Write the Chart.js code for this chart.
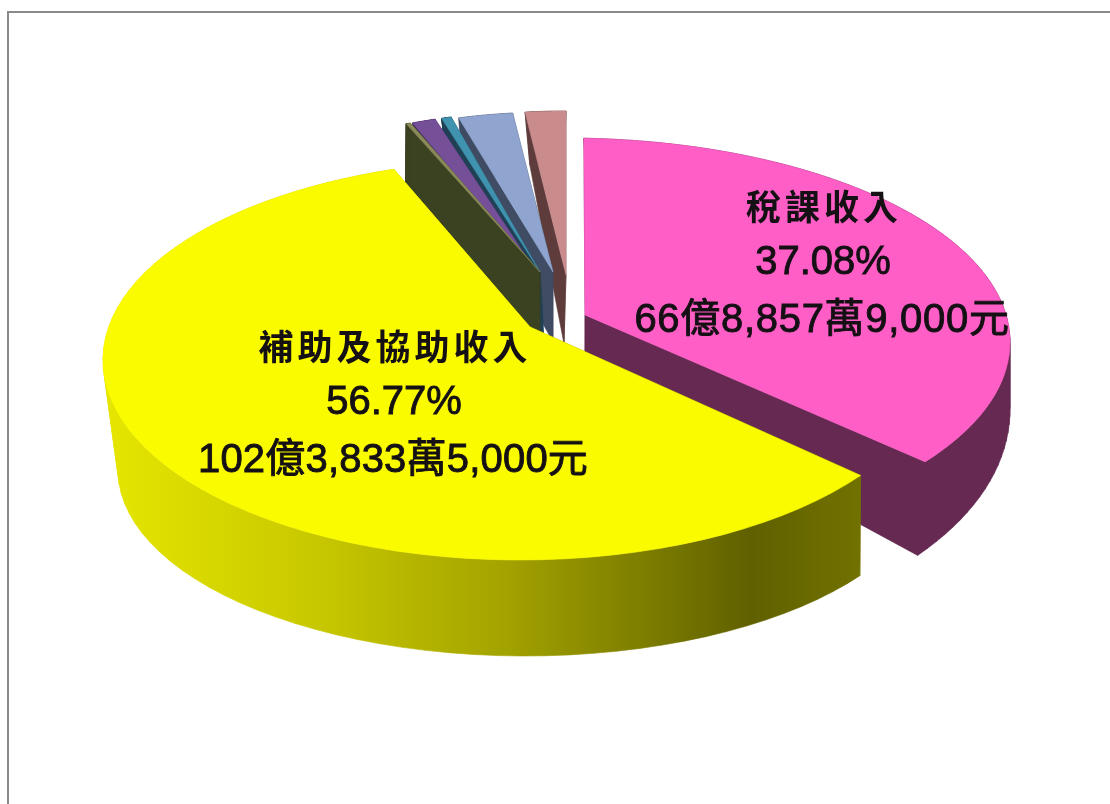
<!DOCTYPE html>
<html lang="zh-Hant">
<head>
<meta charset="utf-8">
<title>收入比例</title>
<script src="https://cdn.jsdelivr.net/npm/chart.js@4/dist/chart.umd.js"></script>
<style>
    html, body { margin: 0; padding: 0; background: #fff; overflow: hidden; }
    #wrap { position: relative; width: 1110px; height: 804px; }
    #frame { position: absolute; left: 7px; top: 11px; right: 0; bottom: 0; border-left: 2px solid #8a8a8a; border-top: 2px solid #8a8a8a; }
    canvas { position: absolute; left: 0; top: 0; }
</style>
</head>
<body>
<div id="wrap">
    <div id="frame"></div>
    <canvas id="chart" width="1110" height="804"></canvas>
</div>
<script>
const categories = ['稅課收入', '補助及協助收入', '其他甲', '其他乙', '其他丙', '其他丁', '其他戊'];
const shares = [37.08, 56.77, 0.2, 1.13, 0.48, 2.5, 1.84];
const percentLabels = ['37.08%', '56.77%'];
const amountLabels = ['66億8,857萬9,000元', '102億3,833萬5,000元'];

const topColors = ['#FF5EC6', '#FBFB00', '#8A8A58', '#754F98', '#3F93AF', '#8FA5CF', '#C98B8B'];
const wallColors = ['#662A52', null, '#3A4222', '#3D2A55', '#1F4055', '#3F4C63', '#5E3C3C'];

// back to front
const drawOrder = [6, 5, 4, 3, 2, 0, 1];

// tilted disc of each slice, offsets from the pie centre: ellipse centre, radii, apex
const face = (dx, dy, rx, ry, ax = dx, ay = dy) => ({ dx, dy, rx, ry, ax, ay });
const topFaces = [
    face(10, -60, 445, 204, 30, -87),
    face(-35, -42, 417, 200, -25, -75),
    face(-15, -130, 355, 160),
    face(-20, -132, 335, 158),
    face(-15, -130, 330, 161),
    face(-2, -130, 350, 160),
    face(11, -127, 355, 164),
];
const bottomFaces = [
    face(65, 8, 390, 225, 30, -27),
    face(-30, 68, 407, 186, -20, 35),
    face(-15, -57, 356, 167),
    face(-15, -60, 335, 167),
    face(-11, -60, 320, 167),
    face(-2, -60, 330, 167),
    face(9, -58, 296, 180),
];

const labelSpots = [
    { x: 268, y: [-195, -139, -81] },
    { x: -161, y: [-55, 1, 59] },
];

// perspective of a circle: moves the disc centre to the apex but keeps the rim on the ellipse
function rimPoint(arc, f, angle) {
    const u = arc.outerRadius / 402;
    const cx = arc.x + f.dx * u, cy = arc.y + f.dy * u;
    const rx = f.rx * u, ry = f.ry * u;
    const px = (f.ax - f.dx) / f.rx, py = (f.ay - f.dy) / f.ry;
    const qx = Math.cos(angle), qy = Math.sin(angle);
    const pp = px * px + py * py;
    const pq = px * qx + py * qy;
    let ex = qx, ey = qy;
    if (pp > 0) {
        const k = pq / pp;
        const s = Math.sqrt(1 - pp);
        ex = (px + k * px + s * (qx - k * px)) / (1 + pq);
        ey = (py + k * py + s * (qy - k * py)) / (1 + pq);
    }
    return { x: cx + rx * ex, y: cy + ry * ey };
}

function apexPoint(arc, f) {
    const u = arc.outerRadius / 402;
    return { x: arc.x + f.ax * u, y: arc.y + f.ay * u };
}

function rimPath(arc, f, from, to) {
    const pts = [];
    const steps = 72;
    for (let i = 0; i <= steps; i++) {
        pts.push(rimPoint(arc, f, from + (to - from) * i / steps));
    }
    return pts;
}

function signedArea(pts) {
    return pts.reduce((sum, p, i) => {
        const n = pts[(i + 1) % pts.length];
        return sum + p.x * n.y - n.x * p.y;
    }, 0);
}

// all polygons go into one path with the same winding, so neighbouring strips leave no seams
function fillPolygons(ctx, polygons, color) {
    ctx.beginPath();
    polygons.forEach((poly) => {
        const pts = signedArea(poly) < 0 ? poly.slice().reverse() : poly;
        pts.forEach((p, i) => (i ? ctx.lineTo(p.x, p.y) : ctx.moveTo(p.x, p.y)));
        ctx.closePath();
    });
    ctx.fillStyle = color;
    ctx.fill();
    ctx.strokeStyle = color;
    ctx.lineWidth = 0.6;
    ctx.stroke();
}

class Arc3D extends Chart.ArcElement {
    draw(ctx) {
        const i = this.$context.dataIndex;
        const { startAngle, endAngle } = this.getProps(['startAngle', 'endAngle'], true);
        const t = topFaces[i], b = bottomFaces[i];
        const wall = this.options.borderColor;
        const topRim = rimPath(this, t, startAngle, endAngle);
        const bottomRim = rimPath(this, b, startAngle, endAngle);
        const topApex = apexPoint(this, t), bottomApex = apexPoint(this, b);
        const last = topRim.length - 1;

        // rim in strips, so the silhouette runs straight between the two ellipses
        const sides = [
            [topApex, topRim[0], bottomRim[0], bottomApex],
            [topApex, topRim[last], bottomRim[last], bottomApex],
        ];
        for (let k = 0; k < last; k++) {
            sides.push([topRim[k], topRim[k + 1], bottomRim[k + 1], bottomRim[k]]);
        }
        fillPolygons(ctx, sides, wall);
        fillPolygons(ctx, [[topApex].concat(topRim)], this.options.backgroundColor);
    }
}
Arc3D.id = 'arc3d';
Arc3D.defaults = Chart.ArcElement.defaults;

class Pie3DController extends Chart.PieController {
    draw() {
        const elements = this._cachedMeta.data;
        const ctx = this._ctx;
        drawOrder.forEach((i) => elements[i].draw(ctx));
    }
}
Pie3DController.id = 'pie3d';
Pie3DController.defaults = Object.assign({}, Chart.PieController.defaults, { dataElementType: 'arc3d' });
Pie3DController.overrides = Chart.PieController.overrides;

Chart.register(Arc3D, Pie3DController);

const pieLabels = {
    id: 'pieLabels',
    afterDatasetsDraw(chart) {
        const { ctx } = chart;
        const arc = chart.getDatasetMeta(0).data[0];
        ctx.save();
        ctx.textAlign = 'center';
        ctx.textBaseline = 'middle';
        ctx.fillStyle = '#141014';
        ctx.strokeStyle = '#141014';
        labelSpots.forEach((spot, i) => {
            const x = arc.x + spot.x;
            const y = spot.y.map((v) => arc.y + v);

            ctx.font = '700 35px "Noto Sans CJK TC"';
            ctx.letterSpacing = '4px';
            ctx.fillText(categories[i], x + 1, y[0]);

            ctx.font = '40px "Liberation Sans", "Noto Sans CJK TC"';
            ctx.letterSpacing = '0px';
            ctx.lineWidth = 0.9;
            ctx.fillText(percentLabels[i], x, y[1]);
            ctx.strokeText(percentLabels[i], x, y[1]);
            ctx.letterSpacing = i === 0 ? '0.7px' : '0.2px';
            ctx.fillText(amountLabels[i], x - 1, y[2]);
            ctx.strokeText(amountLabels[i], x - 1, y[2]);
        });
        ctx.restore();
    },
};

const canvas = document.getElementById('chart');
const sideShade = canvas.getContext('2d').createLinearGradient(103, 0, 865, 0);
sideShade.addColorStop(0, '#E6E600');
sideShade.addColorStop(0.28, '#C8C800');
sideShade.addColorStop(0.52, '#A4A400');
sideShade.addColorStop(0.85, '#606000');
sideShade.addColorStop(1, '#727200');

new Chart(canvas, {
    type: 'pie3d',
    data: {
        labels: categories,
        datasets: [{
            data: shares,
            backgroundColor: topColors,
            borderColor: wallColors.map((c) => c || sideShade),
            borderWidth: 0,
        }],
    },
    options: {
        responsive: false,
        animation: false,
        rotation: 0,
        layout: { padding: 0 },
        plugins: {
            legend: { display: false },
            tooltip: { enabled: false },
        },
    },
    plugins: [pieLabels],
});
</script>
</body>
</html>
